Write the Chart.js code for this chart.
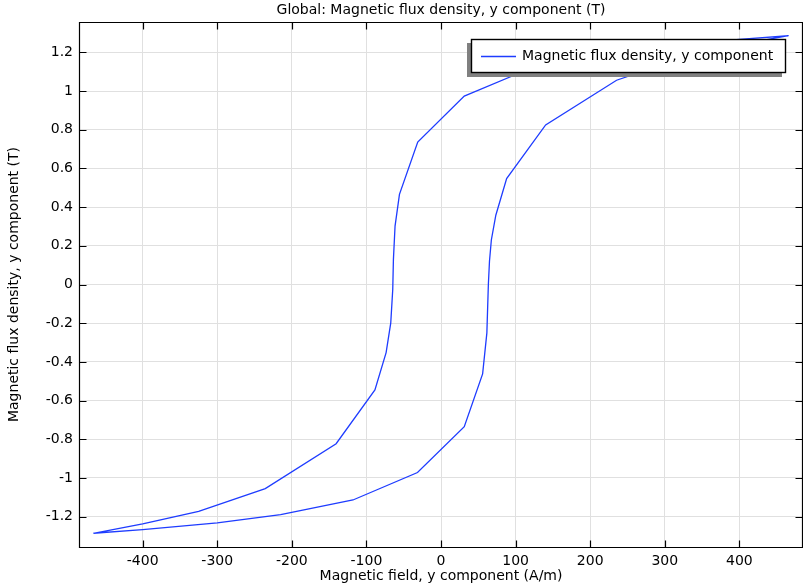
<!DOCTYPE html>
<html>
<head>
<meta charset="utf-8">
<script src="https://cdn.jsdelivr.net/npm/chart.js@4.4.1/dist/chart.umd.min.js"></script>
<style>
html,body{margin:0;padding:0;background:#fff;overflow:hidden}
#wrap{position:relative;width:803px;height:583px}
canvas{display:block}
</style>
</head>
<body>
<div id="wrap"><canvas id="c" width="803" height="583"></canvas></div>
<script>
// ---- data ----
const seriesLabel = 'Magnetic flux density, y component';
const chartTitle = 'Global: Magnetic flux density, y component (T)';
const xAxisTitle = 'Magnetic field, y component (A/m)';
const yAxisTitle = 'Magnetic flux density, y component (T)';

// ascending branch (bottom-left to top-right, lower/right curve)
const hUp = [-466, -400, -300, -215, -118, -31.5, 31.2, 55.8, 61.5, 63.5, 65, 67.5, 73.5, 88, 140.3, 235.4, 325, 400, 466];
const bUp = [-1.286, -1.267, -1.232, -1.19, -1.114, -0.972, -0.735, -0.462, -0.25, 0.0, 0.12, 0.23, 0.358, 0.548, 0.825, 1.056, 1.173, 1.24, 1.286];

// descending branch (top-right back to bottom-left, upper/left curve)
const hDown = [466, 400, 300, 215, 118, 31.2, -31.2, -55.7, -61.6, -63.8, -64.7, -67.4, -73.6, -88.6, -140.6, -235.6, -324.9, -400, -466];
const bDown = [1.286, 1.267, 1.232, 1.19, 1.114, 0.974, 0.736, 0.466, 0.302, 0.129, -0.026, -0.2, -0.352, -0.545, -0.823, -1.055, -1.173, -1.238, -1.286];

const xTicks = [-400, -300, -200, -100, 0, 100, 200, 300, 400];
const yTicks = [-1.2, -1, -0.8, -0.6, -0.4, -0.2, 0, 0.2, 0.4, 0.6, 0.8, 1, 1.2];
const xRange = [-484, 484];
const yRange = [-1.357, 1.357];

// ---- build the library's data table ----
const points = [];
hUp.forEach((h, i) => points.push({x: h, y: bUp[i]}));
hDown.forEach((h, i) => points.push({x: h, y: bDown[i]}));

const lineColor = 'rgb(30,60,255)';
const gridColor = '#e0e0e0';
const FS = 14;
Chart.defaults.font.family = "'DejaVu Sans', sans-serif";
Chart.defaults.font.size = FS;
Chart.defaults.color = '#000';

const framePlugin = {
  id: 'frame',
  afterDraw(chart) {
    const ctx = chart.ctx;
    const a = chart.chartArea;
    const xs = chart.scales.x, ys = chart.scales.y;
    const L = Math.round(a.left) - 0.5, R = Math.round(a.right) + 0.5;
    const T = Math.round(a.top) + 0.5, B = Math.round(a.bottom) + 0.5;
    ctx.save();
    ctx.strokeStyle = '#000';
    ctx.lineWidth = 1.2;
    ctx.beginPath();
    ctx.rect(L, T, R - L, B - T);
    ctx.stroke();
    const tl = 7;
    ctx.beginPath();
    xTicks.forEach(v => {
      const px = Math.round(xs.getPixelForValue(v)) + 0.5;
      ctx.moveTo(px, B); ctx.lineTo(px, B - tl);
      ctx.moveTo(px, T); ctx.lineTo(px, T + tl);
    });
    yTicks.forEach(v => {
      const py = Math.round(ys.getPixelForValue(v)) + 0.5;
      ctx.moveTo(L, py); ctx.lineTo(L + tl, py);
      ctx.moveTo(R, py); ctx.lineTo(R - tl, py);
    });
    ctx.stroke();

    // legend box with shadow, inside the plot area (top right)
    const lw = 315, lh = 34;
    const lx = Math.round(a.right) - 16 - lw, ly = Math.round(a.top) + 17;
    ctx.fillStyle = '#808080';
    ctx.fillRect(lx - 4, ly + 4, lw, lh);
    ctx.fillStyle = '#fff';
    ctx.fillRect(lx, ly, lw, lh);
    ctx.strokeStyle = '#000';
    ctx.lineWidth = 1.4;
    ctx.strokeRect(lx + 0.5, ly + 0.5, lw - 1, lh - 1);
    const ds = chart.data.datasets[0];
    ctx.strokeStyle = ds.borderColor;
    ctx.lineWidth = 1.4;
    ctx.beginPath();
    ctx.moveTo(lx + 10, ly + 17.5); ctx.lineTo(lx + 45, ly + 17.5);
    ctx.stroke();
    ctx.fillStyle = '#000';
    ctx.font = FS + "px 'DejaVu Sans', sans-serif";
    ctx.textBaseline = 'middle';
    ctx.textAlign = 'left';
    ctx.fillText(ds.label, lx + 51, ly + 17.5);
    ctx.restore();
  }
};

new Chart(document.getElementById('c'), {
  type: 'scatter',
  data: {
    datasets: [{
      label: seriesLabel,
      data: points,
      showLine: true,
      borderColor: lineColor,
      backgroundColor: lineColor,
      borderWidth: 1.3,
      pointRadius: 0,
      pointHoverRadius: 0,
      tension: 0
    }]
  },
  options: {
    responsive: false,
    devicePixelRatio: 1,
    animation: false,
    events: [],
    layout: {padding: {left: 0, right: 1, top: 0, bottom: 0}},
    plugins: {
      legend: {display: false},
      title: {display: false},
      tooltip: {enabled: false}
    },
    scales: {
      x: {
        type: 'linear',
        position: 'bottom',
        min: xRange[0], max: xRange[1],
        afterBuildTicks: s => { s.ticks = xTicks.map(v => ({value: v})); },
        afterFit: s => { s.height = 36; },
        ticks: {padding: 6, maxRotation: 0, autoSkip: false, color: '#000', callback: v => String(v)},
        grid: {color: gridColor, drawTicks: false, lineWidth: 1},
        border: {display: false},
        title: {display: true, text: xAxisTitle, color: '#000', font: {size: FS, lineHeight: 1.0}, padding: {top: 0, bottom: 0}}
      },
      x2: {
        type: 'linear',
        position: 'top',
        min: xRange[0], max: xRange[1],
        afterFit: s => { s.height = 22; },
        ticks: {display: false},
        grid: {display: false, drawTicks: false},
        border: {display: false},
        title: {display: true, text: chartTitle, color: '#000', font: {size: FS, lineHeight: 1.2}, padding: {top: 1.5, bottom: 0}}
      },
      y: {
        type: 'linear',
        position: 'left',
        min: yRange[0], max: yRange[1],
        afterBuildTicks: s => { s.ticks = yTicks.map(v => ({value: v})); },
        afterFit: s => { s.width = 80; },
        ticks: {padding: 7, autoSkip: false, color: '#000', callback: v => String(v)},
        grid: {color: gridColor, drawTicks: false, lineWidth: 1},
        border: {display: false},
        title: {display: true, text: yAxisTitle, color: '#000', font: {size: FS, lineHeight: 1.2}, padding: {top: 5.5, bottom: 0}}
      }
    }
  },
  plugins: [framePlugin]
});
</script>
</body>
</html>
